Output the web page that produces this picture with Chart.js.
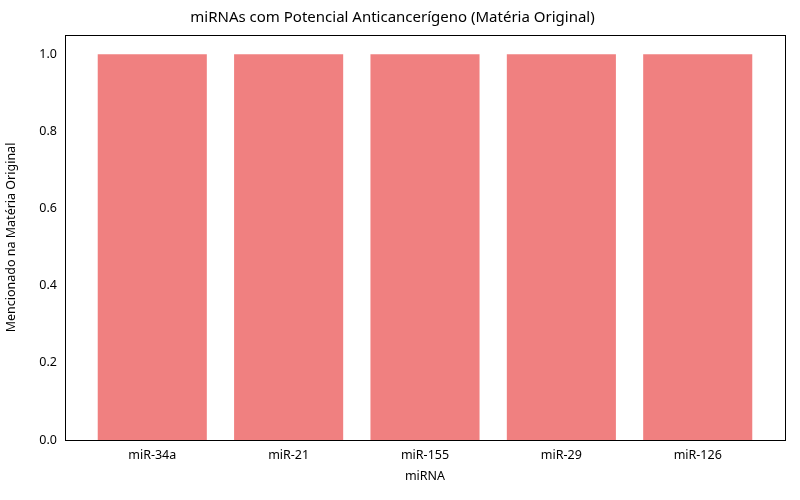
<!DOCTYPE html>
<html><head><meta charset="utf-8">
<script src="https://cdn.jsdelivr.net/npm/chart.js@4/dist/chart.umd.min.js"></script>
<style>body{margin:0;background:#fff}#w{width:800px;height:500px}</style>
</head><body><div id="w"><canvas id="c"></canvas></div>
<script>
const categories = ["miR-34a","miR-21","miR-155","miR-29","miR-126"];
const values = [1,1,1,1,1];
const yTicks = [0,0.2,0.4,0.6,0.8,1.0];
const F = "'Noto Sans', 'DejaVu Sans', sans-serif";
const frame = {id:'frame', afterDatasetsDraw(ch){const a=ch.chartArea,c=ch.ctx;c.save();c.fillStyle='#000';
  const l=Math.round(a.left),r=Math.round(a.right),t=Math.round(a.top),b=Math.round(a.bottom);
  c.fillRect(l,t,r-l+1,1);c.fillRect(l,b,r-l+1,1);c.fillRect(l,t,1,b-t+1);c.fillRect(r,t,1,b-t+1);c.restore();}};
new Chart(document.getElementById('c'),{
  type:'bar',
  data:{datasets:[{data:values.map((v,i)=>({x:i,y:v})),backgroundColor:'#F08080',barPercentage:0.8,categoryPercentage:1}]},
  options:{
    responsive:true,maintainAspectRatio:false,animation:false,
    layout:{padding:{top:4,right:15,left:0,bottom:12}},
    plugins:{legend:{display:false},tooltip:{enabled:false},
      title:{display:true,text:'miRNAs com Potencial Anticancerígeno (Matéria Original)',color:'#000',font:{family:F,size:15,weight:'normal'},padding:{top:5,bottom:8}}},
    scales:{
      x:{type:'linear',min:-0.64,max:4.64,offset:false,
        afterBuildTicks:s=>{s.ticks=categories.map((_,i)=>({value:i}));},
        ticks:{callback:(v)=>categories[v],color:'#000',font:{family:F,size:12.5},autoSkip:false,maxRotation:0,padding:4},
        grid:{display:false,drawTicks:true,tickLength:4},border:{color:'#000'},
        title:{display:true,text:'miRNA',color:'#000',font:{family:F,size:12.5},padding:{top:2}}},
      y:{min:0,max:1.05,
        afterBuildTicks:s=>{s.ticks=yTicks.map(v=>({value:v}));},
        afterFit:s=>{s.width=65;},
        ticks:{callback:v=>v.toFixed(1),color:'#000',font:{family:F,size:12.5},padding:4},
        grid:{display:false,tickLength:4},border:{color:'#000'},
        title:{display:true,text:'Mencionado na Matéria Original',color:'#000',font:{family:F,size:12.5},padding:{bottom:4}}}
    }
  },
  plugins:[frame]
});
</script></body></html>
